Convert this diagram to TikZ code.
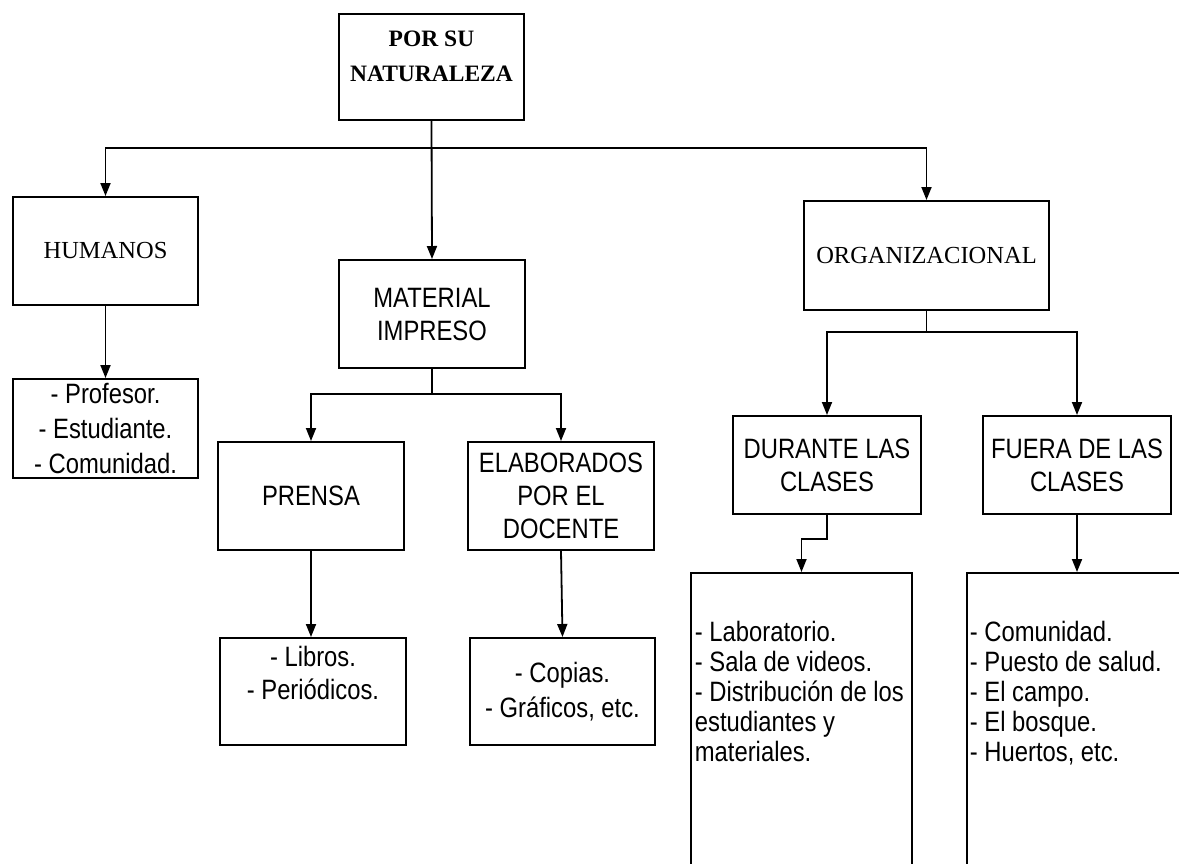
\documentclass[tikz,border=0pt]{standalone}
\usepackage{fontspec}
\setmainfont{Liberation Serif}
\newfontfamily\narrowsans[FakeStretch=0.85]{Liberation Sans}
\usetikzlibrary{arrows.meta}

\tikzstyle{block} = [draw,line width=2pt,align=center,inner sep=2pt,
                     font=\narrowsans\fontsize{28}{33}\selectfont]
\tikzstyle{tblock} = [block,font=\fontsize{24.5}{35}\selectfont]
\tikzstyle{itemlist} = [block,font=\narrowsans\fontsize{28}{35}\selectfont]
\tikzstyle{longlist} = [align=left,inner sep=0pt,anchor=north west,
                        font=\narrowsans\fontsize{28}{30}\selectfont]

\begin{document}
\begin{tikzpicture}[x=1pt,y=-1pt,line width=1.8pt,
                    >={Triangle[length=13pt,width=10pt]}]
  \useasboundingbox (0,0) rectangle (1179,863);
  \clip (0,0) rectangle (1179,863);

  \node[tblock,minimum width=185pt,minimum height=106pt,
        font=\bfseries\fontsize{23.5}{35}\selectfont] at (431.5,67) (nat)
        {POR SU\\NATURALEZA\\[-13pt]\mbox{}};
  \node[tblock,minimum width=185pt,minimum height=108pt] at (105.5,251) (hum) {HUMANOS};
  \node[block,minimum width=186pt,minimum height=108pt] at (432,314) (mat) {MATERIAL\\IMPRESO};
  \node[tblock,minimum width=245pt,minimum height=109pt] at (926.5,255.5) (org) {ORGANIZACIONAL};

  \node[itemlist,minimum width=185pt,minimum height=99pt] at (105.5,428.5) (humlist)
        {- Profesor.\\- Estudiante.\\- Comunidad.};

  \node[block,minimum width=186pt,minimum height=108pt] at (311,496) (pre) {PRENSA};
  \node[block,minimum width=186pt,minimum height=108pt] at (561,496) (ela) {ELABORADOS\\POR EL\\DOCENTE};
  \node[block,minimum width=186pt,minimum height=107pt] at (313,691.5) (prelist)
        {- Libros.\\- Periódicos.\\[5pt]\mbox{}};
  \node[itemlist,minimum width=185pt,minimum height=107pt] at (562.5,691.5) (elalist)
        {- Copias.\\- Gráficos, etc.};

  \node[block,minimum width=188pt,minimum height=98pt] at (827,465) (dur) {DURANTE LAS\\CLASES};
  \node[block,minimum width=188pt,minimum height=98pt] at (1077,465) (fue) {FUERA DE LAS\\CLASES};
  \node[draw,line width=2pt,minimum width=221pt,minimum height=327pt] at (801.5,736.5) (durlist) {};
  \node[draw,line width=2pt,minimum width=233pt,minimum height=327pt] at (1083.5,736.5) (fuelist) {};
  \node[longlist] at (694,620) (durtxt)
        {- Laboratorio.\\- Sala de videos.\\- Distribución de los\\estudiantes y\\materiales.};
  \node[longlist] at (969,620) (fuetxt)
        {- Comunidad.\\- Puesto de salud.\\- El campo.\\- El bosque.\\- Huertos, etc.};

  \draw[->] (nat.south) -- +(0,27) -| (hum.north);
  \draw[->] (nat.south) -- +(0,27) -| (org.north);
  \draw[->] (nat.south) -- (mat.north);
  \draw[->] (hum.south) -- (humlist.north);
  \draw[->] (mat.south) -- +(0,25) -| (pre.north);
  \draw[->] (mat.south) -- +(0,25) -| (ela.north);
  \draw[->] (pre.south) -- (pre.south |- prelist.north);
  \draw[->] (ela.south) -- (elalist.north);
  \draw[->] (org.south) -- +(0,21) -| (dur.north);
  \draw[->] (org.south) -- +(0,21) -| (fue.north);
  \draw[->] (dur.south) -- +(0,24) -| (durlist.north);
  \draw[->] (fue.south) -- (fue.south |- fuelist.north);
\end{tikzpicture}
\end{document}
